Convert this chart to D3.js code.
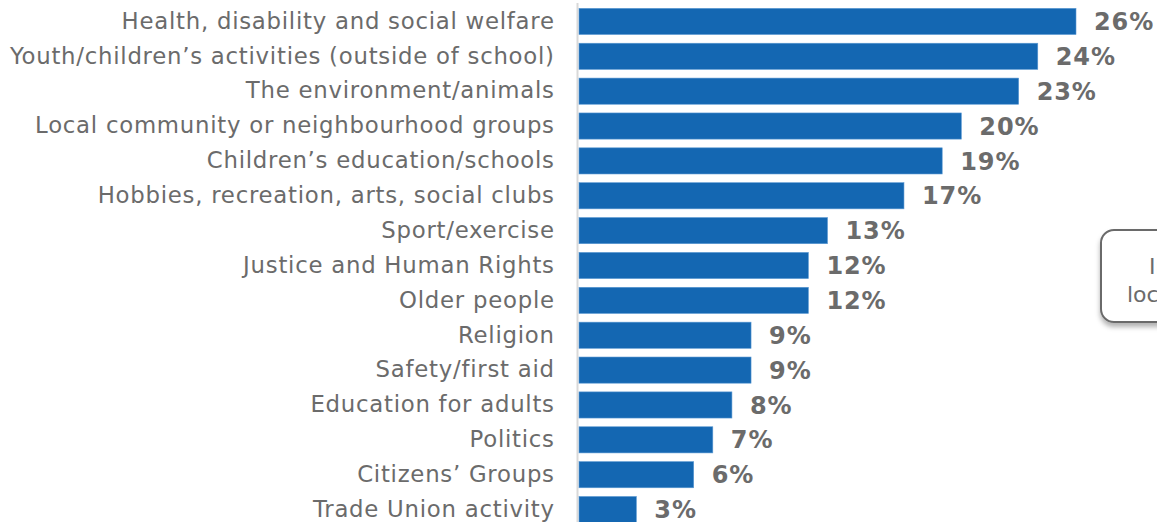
<!DOCTYPE html>
<html>
<head>
<meta charset="utf-8">
<script src="https://cdn.jsdelivr.net/npm/d3@7"></script>
<style>
  html, body { margin: 0; padding: 0; background: #fff; overflow: hidden; }
  svg { display: block; font-family: "DejaVu Sans", Verdana, sans-serif; }
</style>
</head>
<body>
<svg id="chart" width="1157" height="522"></svg>
<script>
// Share of volunteers by area of activity (%)
const categories = [
  "Health, disability and social welfare",
  "Youth/children\u2019s activities (outside of school)",
  "The environment/animals",
  "Local community or neighbourhood groups",
  "Children\u2019s education/schools",
  "Hobbies, recreation, arts, social clubs",
  "Sport/exercise",
  "Justice and Human Rights",
  "Older people",
  "Religion",
  "Safety/first aid",
  "Education for adults",
  "Politics",
  "Citizens\u2019 Groups",
  "Trade Union activity"
];
const values = [26, 24, 23, 20, 19, 17, 13, 12, 12, 9, 9, 8, 7, 6, 3];
const noteLines = ["In the last year,", "local groups"];

const svg = d3.select("#chart");
const W = 1157, H = 522;
const margin = { top: 4, left: 579 };

const x = d3.scaleLinear().domain([0, 26]).range([margin.left, 1076]);
const y = d3.scaleBand().domain(categories).range([margin.top, 527]).paddingInner(0.25).paddingOuter(0.125);

// vertical baseline
svg.append("line")
  .attr("x1", margin.left - 1.5).attr("x2", margin.left - 1.5)
  .attr("y1", 3).attr("y2", H)
  .attr("stroke", "#d9d9d9").attr("stroke-width", 2);

// bars
svg.append("g").selectAll("rect")
  .data(values)
  .join("rect")
  .attr("x", x(0))
  .attr("y", (d, i) => y(categories[i]))
  .attr("width", d => x(d) - x(0))
  .attr("height", y.bandwidth())
  .attr("fill", "#1467b2")
  .attr("stroke", "#5a98d2")
  .attr("stroke-width", 0.6);

// category labels
const yAxis = d3.axisLeft(y).tickSize(0).tickPadding(0);
const ag = svg.append("g").attr("transform", `translate(554,0)`).call(yAxis);
ag.select(".domain").remove();
ag.selectAll("text")
  .attr("font-family", "DejaVu Sans, Verdana, sans-serif")
  .attr("font-size", 22.8)
  .attr("letter-spacing", 0.75)
  .attr("dx", 0.75)
  .attr("fill", "#6b6b6b");

// value labels
svg.append("g").selectAll("text")
  .data(values)
  .join("text")
  .attr("x", d => x(d) + 18)
  .attr("y", (d, i) => y(categories[i]) + y.bandwidth() / 2)
  .attr("dy", "0.36em")
  .attr("font-size", 24)
  .attr("letter-spacing", 0.9)
  .attr("font-weight", "bold")
  .attr("fill", "#6b6b6b")
  .text(d => d + "%");

// note box at the right edge
const defs = svg.append("defs");
const f = defs.append("filter").attr("id", "sh").attr("x", "-20%").attr("y", "-20%").attr("width", "140%").attr("height", "140%");
f.append("feDropShadow").attr("dx", 0).attr("dy", 4).attr("stdDeviation", 2.5).attr("flood-color", "#000").attr("flood-opacity", 0.3);

svg.append("rect")
  .attr("x", 1101).attr("y", 230)
  .attr("width", 220).attr("height", 92)
  .attr("rx", 13)
  .attr("fill", "#fff")
  .attr("stroke", "#6b6b6b")
  .attr("stroke-width", 2)
  .attr("filter", "url(#sh)");

svg.append("g").selectAll("text")
  .data(noteLines)
  .join("text")
  .attr("x", (d, i) => i === 0 ? 1149 : 1127)
  .attr("y", (d, i) => 274 + i * 28)
  .attr("font-size", 22)
  .attr("fill", "#6b6b6b")
  .text(d => d);
</script>
</body>
</html>
